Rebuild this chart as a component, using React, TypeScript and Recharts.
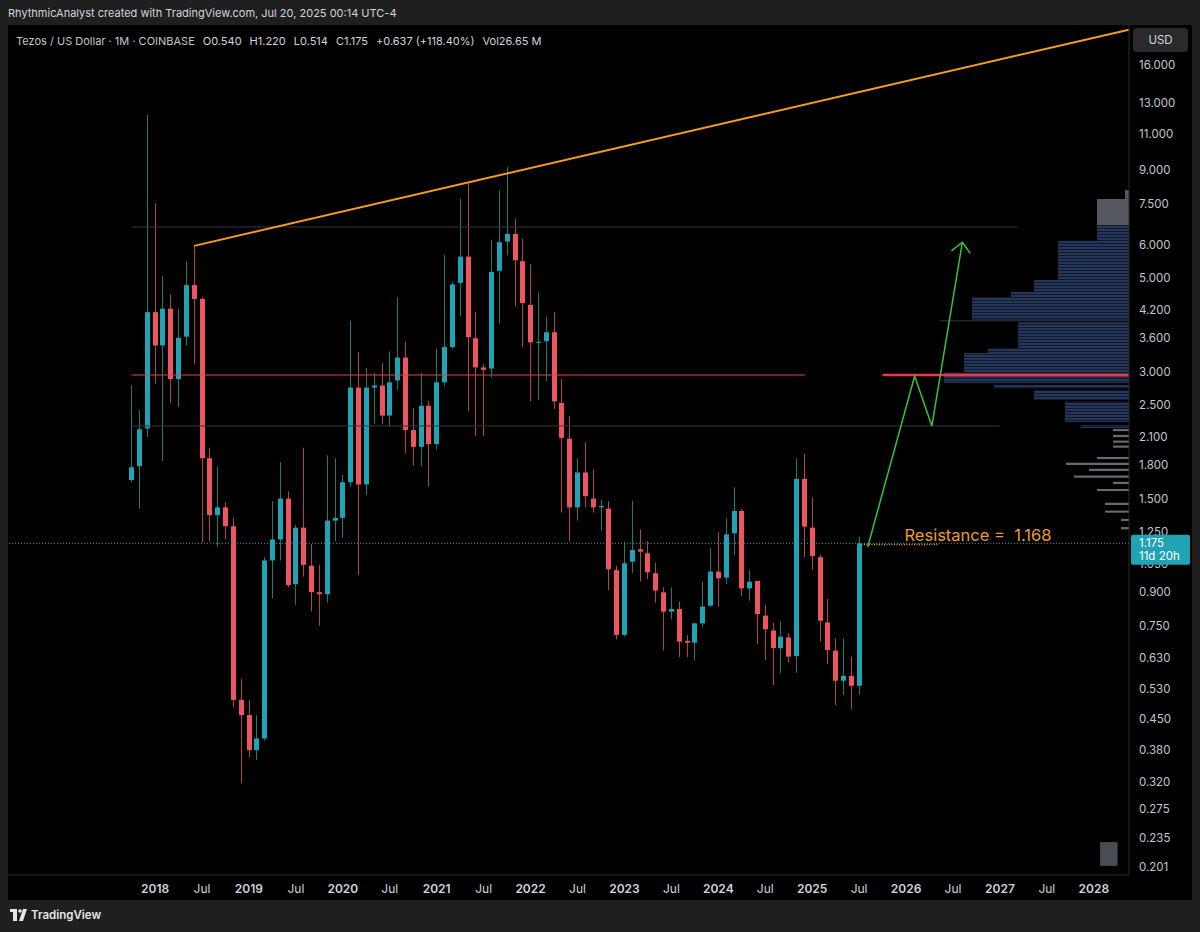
import React from 'react';
import {
  ComposedChart, Bar, Line, XAxis, YAxis, ReferenceLine, ReferenceArea,
} from 'recharts';

// monthly candles, t = 0 is Oct 2017
const opens = [1.66, 1.79, 2.20, 4.15, 3.46, 4.23, 2.88, 3.63, 4.81, 4.46,
  1.87, 1.37, 1.43, 1.29, 0.50, 0.46, 0.38, 0.405, 1.07, 1.20,
  1.50, 0.94, 1.28, 1.04, 0.90, 0.89, 1.33, 1.35, 1.64, 2.75,
  1.62, 2.75, 2.78, 2.36, 2.86, 3.24, 2.18, 1.99, 2.49, 2.02,
  2.83, 3.43, 4.87, 5.62, 3.60, 3.07, 3.05, 5.20, 6.10, 6.36,
  5.48, 4.32, 3.52, 3.54, 3.72, 2.53, 2.08, 1.43, 1.73, 1.50,
  1.43, 1.42, 1.015, 0.713, 1.063, 1.137, 1.113, 0.998, 0.899, 0.809,
  0.821, 0.690, 0.683, 0.759, 0.836, 1.007, 0.974, 1.241, 1.402, 0.919,
  0.957, 0.792, 0.730, 0.663, 0.703, 0.635, 1.670, 1.280, 1.089, 0.763,
  0.654, 0.555, 0.570, 0.540];
const highs = [2.79, 2.43, 12.2, 7.52, 5.06, 4.56, 4.23, 5.47, 5.96, 4.50,
  1.98, 1.79, 1.47, 1.35, 0.56, 0.50, 0.46, 1.09, 1.48, 1.83,
  1.56, 1.30, 1.98, 1.17, 1.045, 1.90, 1.87, 1.71, 3.96, 3.34,
  3.06, 2.98, 3.14, 3.35, 4.50, 3.53, 2.46, 2.98, 2.56, 3.40,
  5.68, 4.90, 7.72, 8.45, 4.15, 3.13, 6.16, 8.08, 9.17, 6.91,
  6.20, 5.39, 4.62, 4.05, 4.15, 2.89, 2.35, 1.87, 2.04, 1.76,
  1.49, 1.48, 1.04, 1.186, 1.483, 1.268, 1.190, 1.057, 0.924, 0.924,
  0.855, 0.712, 0.762, 0.953, 1.144, 1.248, 1.347, 1.595, 1.417, 1.016,
  0.957, 0.839, 0.762, 0.766, 0.719, 1.869, 1.914, 1.511, 1.103, 0.867,
  0.700, 0.700, 0.633, 1.220];
const lows = [1.64, 1.42, 2.10, 2.81, 1.84, 2.53, 2.47, 3.46, 3.12, 1.18,
  1.19, 1.15, 1.20, 0.48, 0.317, 0.365, 0.36, 0.40, 0.87, 1.07,
  0.925, 0.84, 0.98, 0.81, 0.75, 0.85, 1.19, 1.21, 1.60, 0.99,
  1.53, 2.26, 2.25, 2.22, 2.71, 1.92, 1.80, 1.79, 1.60, 1.96,
  2.77, 3.40, 4.06, 2.42, 2.11, 2.11, 2.90, 3.90, 5.66, 4.29,
  3.43, 2.55, 2.57, 2.85, 2.45, 1.39, 1.19, 1.33, 1.43, 1.39,
  1.26, 0.91, 0.695, 0.706, 1.0, 0.953, 0.966, 0.850, 0.654, 0.776,
  0.631, 0.631, 0.619, 0.743, 0.832, 0.832, 0.941, 1.103, 0.882, 0.859,
  0.678, 0.622, 0.542, 0.578, 0.613, 0.580, 1.089, 1.016, 0.687, 0.608,
  0.486, 0.513, 0.475, 0.514];
const closes = [1.78, 2.19, 4.15, 3.46, 4.23, 2.88, 3.61, 4.81, 4.46, 1.87,
  1.37, 1.43, 1.29, 0.50, 0.46, 0.38, 0.405, 1.07, 1.20, 1.50,
  0.936, 1.28, 1.045, 0.90, 0.89, 1.33, 1.35, 1.64, 2.75, 1.62,
  2.75, 2.78, 2.36, 2.83, 3.24, 2.18, 1.99, 2.49, 2.02, 2.83,
  3.43, 4.83, 5.62, 3.62, 3.07, 3.03, 5.17, 6.08, 6.36, 5.51,
  4.36, 3.52, 3.53, 3.72, 2.55, 2.09, 1.43, 1.73, 1.52, 1.43,
  1.44, 1.02, 0.713, 1.054, 1.133, 1.123, 1.003, 0.908, 0.809, 0.821,
  0.687, 0.683, 0.759, 0.832, 1.007, 0.971, 1.234, 1.402, 0.919, 0.953,
  0.798, 0.735, 0.663, 0.706, 0.633, 1.670, 1.287, 1.097, 0.770, 0.656,
  0.555, 0.570, 0.540, 1.175];

const xTickMonths = [3, 9, 15, 21, 27, 33, 39, 45, 51, 57, 63, 69, 75, 81, 87, 93, 99, 105, 111, 117, 123];
const xTickLabels = ['2018', 'Jul', '2019', 'Jul', '2020', 'Jul', '2021', 'Jul', '2022', 'Jul', '2023', 'Jul',
  '2024', 'Jul', '2025', 'Jul', '2026', 'Jul', '2027', 'Jul', '2028'];
const yTicks = [16, 13, 11, 9, 7.5, 6, 5, 4.2, 3.6, 3, 2.5, 2.1, 1.8, 1.5, 1.25, 1.05, 0.9, 0.75, 0.63,
  0.53, 0.45, 0.38, 0.32, 0.275, 0.235, 0.201];

// drawings
const trendT = [8, 127.5];
const trendP = [5.96, 19.4];
const pathT = [94.1, 100.1, 102.3, 106.2];
const pathP = [1.152, 2.93, 2.23, 6.08];
const headT = [104.8, 106.2, 107.2];
const headP = [5.80, 6.08, 5.72];

// volume profile rows (top price, bottom price, volume, kind)
const vpTop = [8.08, 7.70, 6.68, 6.13, 4.95, 4.63, 4.51, 3.93, 3.41, 3.32, 2.99, 2.90, 2.79, 2.714, 2.546, 2.24,
  2.194, 2.124, 2.059, 2.004, 1.883, 1.823, 1.765, 1.701, 1.644, 1.581, 1.466, 1.405, 1.343, 1.284];
const vpBottom = [7.70, 6.68, 6.13, 4.95, 4.63, 4.51, 3.98, 3.41, 3.32, 2.99, 2.90, 2.82, 2.74, 2.57, 2.28, 2.205,
  2.168, 2.098, 2.035, 1.980, 1.861, 1.801, 1.743, 1.681, 1.624, 1.563, 1.448, 1.389, 1.327, 1.268];
const vpVol = [4, 32, 32, 71, 95, 118, 157, 111, 141, 165, 185, 185, 135, 95, 64, 48,
  16, 16, 16, 16, 32, 63, 40, 55, 16, 32, 24, 24, 8, 8];
const vpKind = ['g', 'g', 'b', 'b', 'b', 'b', 'b', 'b', 'b', 'b', 'b', 'b', 'b', 'b', 'b', 'b',
  'l', 'l', 'l', 'l', 'l', 'l', 'l', 'l', 'l', 'l', 'l', 'l', 'l', 'l'];

const T_MIN = -15.8;
const T_MAX = 127.5;
const VOL_PER_MONTH = 7.825;
const LAST = 1.175;
const RESIST = 1.168;

const UP = '#1fa3b5';
const DOWN = '#ef5560';
const UP_WICK = '#1f7a70';
const DOWN_WICK = '#b3434d';
const FONT = "Inter, 'Noto Sans', sans-serif";

const candles = opens.map((o, i) => ({
  t: i, open: o, high: highs[i], low: lows[i], close: closes[i], range: [lows[i], highs[i]],
}));
const trendPts = trendT.map((t, i) => ({ t, p: trendP[i] }));
const pathPts = pathT.map((t, i) => ({ t, p: pathP[i] }));
const headPts = headT.map((t, i) => ({ t, p: headP[i] }));
// last price is drawn as the final axis tick so it sits on top of the other labels
const axisTicks = [...yTicks, LAST];

const Candle = (props: any) => {
  const { x, y, width, height, payload } = props;
  if (!payload || height == null) return null;
  const top = Math.min(y, y + height);
  const h = Math.abs(height);
  const lh = Math.log(payload.high);
  const ll = Math.log(payload.low);
  const py = (v: number) => top + (h * (lh - Math.log(v))) / (lh - ll);
  const cx = Math.round(x + width / 2) + 0.5;
  const up = payload.close >= payload.open;
  const b1 = py(Math.max(payload.open, payload.close));
  const b2 = py(Math.min(payload.open, payload.close));
  return (
    <g>
      <line x1={cx} x2={cx} y1={top} y2={top + h} stroke={up ? UP_WICK : DOWN_WICK} strokeWidth={1} />
      <rect x={cx - 2.5} y={b1} width={5} height={Math.max(1, b2 - b1)} fill={up ? UP : DOWN} />
    </g>
  );
};

const PriceTick = ({ x, y, payload }: any) => {
  if (payload.value === LAST) {
    return (
      <g>
        <rect x={x} y={y - 8.5} width={59} height={30} fill={UP} rx={2} />
        <text x={x + 8} y={y + 3.5} fill="#fff" fontSize={11.5} fontFamily={FONT}>{LAST.toFixed(3)}</text>
        <text x={x + 8} y={y + 17} fill="#fff" fontSize={11.5} fontFamily={FONT}>11d 20h</text>
      </g>
    );
  }
  return (
    <text x={x + 8} y={y} dy={4} fill="#c3c6ce" fontSize={11.5} fontFamily={FONT} textAnchor="start">
      {Number(payload.value).toFixed(3)}
    </text>
  );
};

const TimeTick = ({ x, y, payload }: any) => {
  const label = xTickLabels[xTickMonths.indexOf(payload.value)] || '';
  const isYear = label !== 'Jul';
  return (
    <text x={x} y={y + 16} fill="#d1d4dc" fontSize={12} fontWeight={isYear ? 600 : 400}
      fontFamily={FONT} textAnchor="middle">{label}</text>
  );
};

const App: React.FC = () => {
  return (
    <div style={{ position: 'relative', width: 1200, height: 932, background: '#1f1f1f', overflow: 'hidden', fontFamily: FONT }}>
      <style>{'body{margin:0}'}</style>
      <div style={{ position: 'absolute', left: 8, top: 6, fontSize: 11, color: '#d1d4dc' }}>
        RhythmicAnalyst created with TradingView.com, Jul 20, 2025 00:14 UTC-4
      </div>
      <div style={{ position: 'absolute', left: 8, top: 25, width: 1184, height: 875, background: '#000' }}>
        <ComposedChart width={1184} height={875} data={candles} margin={{ top: 0, right: 0, bottom: 0, left: 0 }}>
          <defs>
            <pattern id="vpStripe" width="6" height="3" patternUnits="userSpaceOnUse">
              <rect width="6" height="2" fill="#25365a" />
              <rect y="2" width="6" height="1" fill="#111a2b" />
            </pattern>
          </defs>
          <XAxis dataKey="t" type="number" domain={[T_MIN, T_MAX]} allowDataOverflow ticks={xTickMonths}
            tick={<TimeTick />} tickLine={false} tickSize={0} height={25} stroke="#2a2a2a" interval={0} />
          <YAxis orientation="right" type="number" scale="log" domain={[0.1922, 19.9]} allowDataOverflow
            ticks={axisTicks} tick={<PriceTick />} tickLine={false} tickSize={0} width={63} stroke="#2a2a2a" interval={0} />

          {vpTop.map((top, i) => (
            <ReferenceArea key={'vp' + i} x1={T_MAX - vpVol[i] / VOL_PER_MONTH} x2={T_MAX} y1={vpBottom[i]} y2={top}
              fill={vpKind[i] === 'b' ? 'url(#vpStripe)' : vpKind[i] === 'g' ? '#55585f' : '#676a72'}
              fillOpacity={1} stroke="none" ifOverflow="visible" />
          ))}
          <ReferenceArea x1={123.8} x2={126.05} y1={0.202} y2={0.230} fill="#4a4c53" fillOpacity={1} stroke="none" />

          <ReferenceLine segment={[{ x: 0, y: 6.61 }, { x: 113.2, y: 6.61 }]} stroke="#323745" strokeWidth={1} />
          <ReferenceLine segment={[{ x: 0, y: 2.23 }, { x: 111.0, y: 2.23 }]} stroke="#323745" strokeWidth={1} />
          <ReferenceLine segment={[{ x: 103.3, y: 3.96 }, { x: T_MAX, y: 3.96 }]} stroke="#323745" strokeWidth={1} />
          <ReferenceLine segment={[{ x: 0, y: 2.945 }, { x: 86.1, y: 2.945 }]} stroke="#e0404e" strokeWidth={1} />
          <ReferenceLine segment={[{ x: 96.0, y: 2.945 }, { x: T_MAX, y: 2.945 }]} stroke="#f23645" strokeWidth={2.5} />
          <ReferenceLine y={LAST} stroke={UP} strokeDasharray="1 2" strokeWidth={1} />
          <ReferenceLine segment={[{ x: 93.3, y: RESIST }, { x: 103.1, y: RESIST }]} stroke="#e3a040" strokeDasharray="1 1.5" strokeWidth={1.5}
            label={(p: any) => {
              const vb = p.viewBox || {};
              return (
                <text x={vb.x + 43} y={vb.y - 3} fill="#eb9c2e" fontSize={16.5} fontFamily={FONT} style={{ whiteSpace: 'pre' }}>
                  {'Resistance =  ' + RESIST.toFixed(3)}
                </text>
              );
            }} />

          <Bar dataKey="range" barSize={5} shape={<Candle />} isAnimationActive={false} />

          <Line data={trendPts} dataKey="p" type="linear" stroke="#f59e1b" strokeWidth={2} dot={false} isAnimationActive={false} />
          <Line data={pathPts} dataKey="p" type="linear" stroke="#33c43a" strokeWidth={1.5} dot={false} isAnimationActive={false} />
          <Line data={headPts} dataKey="p" type="linear" stroke="#33c43a" strokeWidth={1.5} dot={false} isAnimationActive={false} />
        </ComposedChart>

        <div style={{ position: 'absolute', left: 8, top: 9, fontSize: 11, color: '#d1d4dc', whiteSpace: 'pre', display: 'flex' }}>
          <span style={{ color: '#c3c6ce' }}>Tezos / US Dollar · 1M · COINBASE</span>
          {['O0.540', 'H1.220', 'L0.514', 'C1.175', '+0.637 (+118.40%)', 'Vol26.65 M'].map((s) => (
            <span key={s} style={{ marginLeft: 8 }}>{s}</span>
          ))}
        </div>
        <div style={{
          position: 'absolute', left: 1125, top: 3, width: 55, height: 24, borderRadius: 4, background: '#2a2a2a',
          color: '#d1d4dc', fontSize: 11.5, display: 'flex', alignItems: 'center', justifyContent: 'center',
        }}>USD</div>
      </div>
      <div style={{ position: 'absolute', left: 10, top: 908, display: 'flex', alignItems: 'center', color: '#e6e6e6', fontSize: 11.5, fontWeight: 600 }}>
        <svg width={18} height={12} style={{ marginRight: 3 }}>
          <rect x={0} y={0} width={7} height={3} fill="#e6e6e6" />
          <rect x={3} y={0} width={4} height={12} fill="#e6e6e6" />
          <circle cx={10} cy={2} r={1.8} fill="#e6e6e6" />
          <path d="M9 12 L13 0 L17 0 L13 12 Z" fill="#e6e6e6" />
        </svg>
        TradingView
      </div>
    </div>
  );
};

export default App;
